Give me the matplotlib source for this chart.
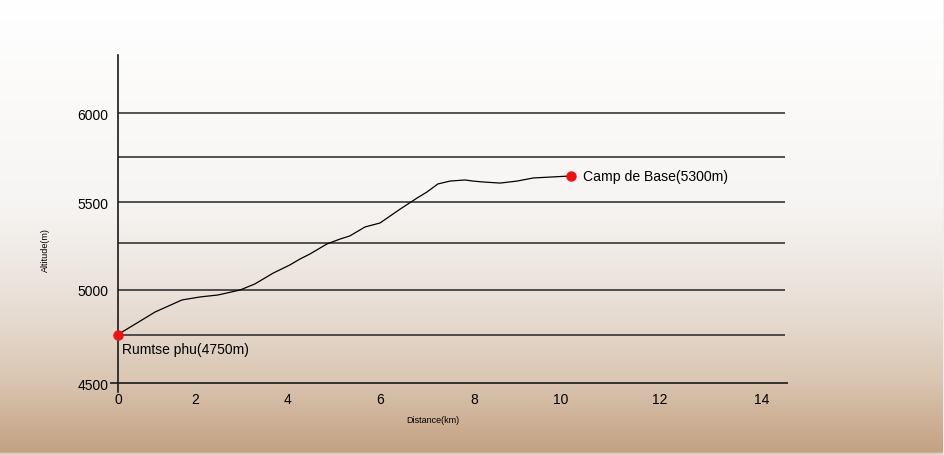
import numpy as np
import matplotlib
matplotlib.use("Agg")
import matplotlib.pyplot as plt
from matplotlib.colors import to_rgb

plt.rcParams['font.family'] = ['Liberation Sans', 'DejaVu Sans']

# trail profile
distance_km = [0, 0.96, 1.66, 2.11, 2.5, 2.98, 3.30, 3.70, 4.06, 4.28, 4.49,
               4.86, 5.14, 5.35, 5.68, 6.0, 6.43, 6.79, 7.0, 7.23, 7.49,
               7.81, 7.98, 8.21, 8.60, 8.99, 9.36, 9.75, 10.2]
altitude_m = [4750, 4876, 4944, 4961, 4972, 5000, 5032, 5090, 5133, 5165, 5191,
              5245, 5274, 5293, 5348, 5372, 5457, 5522, 5555, 5599, 5615,
              5621, 5615, 5610, 5604, 5615, 5632, 5637, 5643]

start_name = "Rumtse phu(4750m)"
end_name = "Camp de Base(5300m)"

x_ticks = [0, 2, 4, 6, 8, 10, 12, 14]
y_ticks = [4500, 5000, 5500, 6000]
grid_levels = [4750, 5000, 5250, 5500, 5750, 6000]

# the hand drawn axes are not evenly spaced: piecewise linear scales
x_knots = [-2, 0, 2, 4, 6, 8, 10, 12, 14, 16]
x_pos = [41, 118, 195, 287, 380, 474, 561, 660, 762, 864]
y_knots = [4250, 4500, 4750, 5000, 5250, 5500, 5750, 6000, 6500]
y_pos = [432, 384, 335.5, 291, 244, 203, 157.5, 114, 26]

def x_fwd(v):
    return np.interp(v, x_knots, x_pos)

def x_inv(v):
    return np.interp(v, x_pos, x_knots)

y_neg = [-p for p in y_pos]

def y_fwd(v):
    return np.interp(v, y_knots, y_neg)

def y_inv(v):
    return np.interp(v, y_neg, y_knots)

W, H = 944, 456
fig = plt.figure(figsize=(W / 100, H / 100), dpi=100)

# paper background: white fading to tan at the bottom
bg = fig.add_axes([0, 0, 1, 1], zorder=-1)
stops_y = [0, 200, 260, 320, 380, 420, 452, 456]
stops_c = ['#ffffff', '#f7f5f3', '#efe9e4', '#e6dad0', '#dac6b2', '#ceb197', '#c3a182', '#f2ece6']
rgb = np.array([to_rgb(c) for c in stops_c])
rows = np.arange(H)
grad = np.stack([np.interp(rows, stops_y, rgb[:, i]) for i in range(3)], axis=-1)
img = np.repeat(grad[:, None, :], W, axis=1)
img[:, -1, :] = to_rgb('#f2ece6')
bg.imshow(img, aspect='auto', extent=[0, W, H, 0])
bg.set_axis_off()

xlim = (-0.2, 14.5)
ylim = (4455, 6330)
left = x_fwd(xlim[0])
right = x_fwd(xlim[1])
bottom = -y_fwd(ylim[0])
top = -y_fwd(ylim[1])
ax = fig.add_axes([left / W, 1 - bottom / H, (right - left) / W, (bottom - top) / H])
ax.patch.set_alpha(0)
ax.set_xscale('function', functions=(x_fwd, x_inv))
ax.set_yscale('function', functions=(y_fwd, y_inv))
ax.set_xlim(*xlim)
ax.set_ylim(*ylim)

for s in ['top', 'right', 'bottom']:
    ax.spines[s].set_visible(False)
ax.spines['left'].set_position(('data', 0))
ax.spines['left'].set_linewidth(1.2)
ax.spines['left'].set_color('#1a1a1a')

ax.hlines(grid_levels, 0, 14.45, color='#262626', lw=1.1)
ax.hlines(4500, -0.2, 14.5, color='#1a1a1a', lw=1.2)

ax.plot(distance_km, altitude_m, color='black', lw=0.9)
ax.plot([distance_km[0], distance_km[-1]], [altitude_m[0], altitude_m[-1]],
        'o', color='#ee1111', ms=6.5, ls='none', clip_on=False, zorder=5)

ax.text(0.1, altitude_m[0] - 40, start_name, fontsize=10, va='top', ha='left')
ax.text(distance_km[-1] + 0.25, altitude_m[-1], end_name, fontsize=10.1,
        va='center', ha='left')

ax.set_xticks(x_ticks)
ax.set_xticklabels([str(t) for t in x_ticks])
ax.set_yticks(y_ticks)
ax.set_yticklabels([str(t) for t in y_ticks])
ax.minorticks_off()
ax.tick_params(axis='x', length=0, pad=0.5, labelsize=10)
ax.tick_params(axis='y', length=0, pad=7, labelsize=10)

fig.text(433 / W, 1 - 421 / H, "Distance(km)", fontsize=6.5, ha='center', va='center')
fig.text(45 / W, 1 - 250 / H, "Altitude(m)", fontsize=6.5, ha='center', va='center',
         rotation=90)

fig.savefig("out.png", dpi=100)
